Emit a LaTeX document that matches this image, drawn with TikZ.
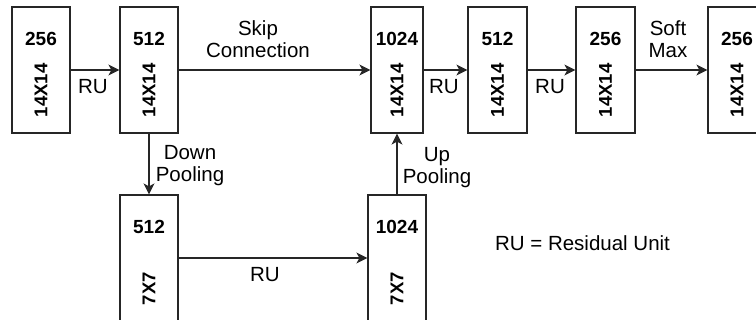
\documentclass[tikz,border=0pt]{standalone}
\usepackage{fontspec}
\setmainfont{Liberation Sans}
\usepackage{tikz}
\usetikzlibrary{arrows.meta}

\begin{document}
\begin{tikzpicture}[
    x=1pt, y=-1pt,
    % Block styles
    blk/.style={draw=black!85, line width=1.2pt, minimum height=126pt, inner sep=0pt},
    numtxt/.style={font=\bfseries\fontsize{19}{20}\selectfont, inner sep=0pt},
    dimtxt/.style={font=\bfseries\fontsize{18.5}{20}\selectfont, rotate=90, anchor=west, inner sep=0pt},
    % Labels
    lbl/.style={font=\fontsize{20.5}{22}\selectfont, inner sep=0pt, align=center},
    % Connectors
    conn/.style={line width=1.2pt, draw=black!85, -{Stealth[length=11pt, width=11pt, inset=3pt]}}
]
    \useasboundingbox (0,0) rectangle (756,320);
    \clip (0,0) rectangle (756,320);

    % =========================================================================
    % 1. BLOCKS (name/x/y/width/channels/size)
    % =========================================================================
    \foreach \nm/\cx/\cy/\bw/\nval/\dval in {
        b1/41/70/58/256/14X14, b2/149/70/58/512/14X14, b3/397/70/52/1024/14X14,
        b4/497.5/70/59/512/14X14, b5/605.5/70/59/256/14X14, b6/737/70/58/256/14X14,
        b7/149/258/58/512/7X7, b8/397/258/58/1024/7X7} {
        \node[blk, minimum width=\bw pt] (\nm) at (\cx,\cy) {};
        \node[numtxt] (\nm-num) at ([yshift=-32.5pt]\nm.north) {\nval};
        \node[dimtxt] (\nm-dim) at ([yshift=-111pt]\nm.north) {\dval};
    }

    % =========================================================================
    % 2. CONNECTORS
    % =========================================================================
    \foreach \a/\b in {b1/b2, b2/b3, b3/b4, b4/b5, b5/b6, b2/b7, b7/b8, b8/b3} {
        \draw[conn] (\a) -- (\b);
    }

    % =========================================================================
    % 3. LABELS
    % =========================================================================
    \node[lbl] (ru1) at (93,87) {RU};
    \node[lbl] (ru2) at (444,87) {RU};
    \node[lbl] (ru3) at (550,87) {RU};
    \node[lbl] (ru4) at (265,275) {RU};
    \node[lbl] (skip) at (258,39.5) {Skip\\Connection};
    \node[lbl] (soft) at (668,39.5) {Soft\\Max};
    \node[lbl] (down) at (190,165.5) {Down\\Pooling};
    \node[lbl] (up) at (437,167.5) {Up\\Pooling};
    \node[lbl] (legend) at (582.5,243.5) {RU = Residual Unit};

\end{tikzpicture}
\end{document}
